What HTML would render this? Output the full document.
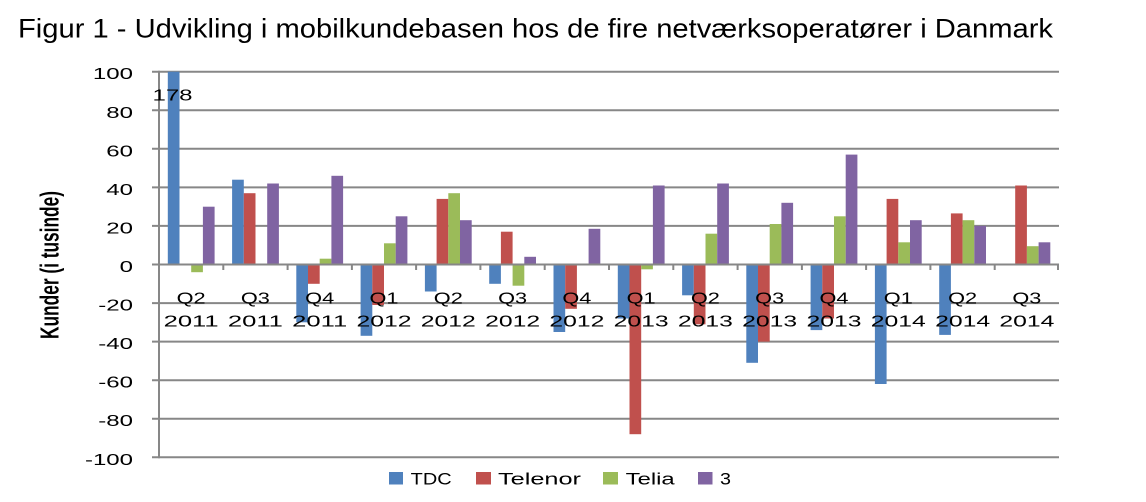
<!DOCTYPE html>
<html>
<head>
<meta charset="utf-8">
<style>
html,body{margin:0;padding:0;background:#fff;}
svg{display:block;}
text{font-family:"Liberation Sans",Arial,sans-serif;fill:#000;}
</style>
</head>
<body>
<svg width="1146" height="502" viewBox="0 0 1146 502" xmlns="http://www.w3.org/2000/svg">
<rect width="1146" height="502" fill="#fff"/>
<!-- Title -->
<text x="18" y="37.7" font-size="27" textLength="1035" lengthAdjust="spacingAndGlyphs">Figur 1 - Udvikling i mobilkundebasen hos de fire netværksoperatører i Danmark</text>

<!-- Gridlines -->
<g stroke="#878787" stroke-width="2">
<line x1="152" y1="71.7" x2="1059" y2="71.7"/>
<line x1="152" y1="110.3" x2="1059" y2="110.3"/>
<line x1="152" y1="148.8" x2="1059" y2="148.8"/>
<line x1="152" y1="187.4" x2="1059" y2="187.4"/>
<line x1="152" y1="225.9" x2="1059" y2="225.9"/>
<line x1="152" y1="303.1" x2="1059" y2="303.1"/>
<line x1="152" y1="341.6" x2="1059" y2="341.6"/>
<line x1="152" y1="380.2" x2="1059" y2="380.2"/>
<line x1="152" y1="418.7" x2="1059" y2="418.7"/>
<line x1="152" y1="457.3" x2="1059" y2="457.3"/>
</g>

<!-- Bars -->
<g fill="#4F81BD">
<rect x="167.8" y="71.7" width="11.7" height="192.8"/>
<rect x="232.1" y="179.7" width="11.7" height="84.8"/>
<rect x="296.3" y="264.5" width="11.7" height="57.8"/>
<rect x="360.6" y="264.5" width="11.7" height="71.3"/>
<rect x="424.9" y="264.5" width="11.7" height="27.0"/>
<rect x="489.2" y="264.5" width="11.7" height="19.3"/>
<rect x="553.5" y="264.5" width="11.7" height="67.5"/>
<rect x="617.8" y="264.5" width="11.7" height="54.0"/>
<rect x="682.1" y="264.5" width="11.7" height="30.8"/>
<rect x="746.3" y="264.5" width="11.7" height="98.3"/>
<rect x="810.6" y="264.5" width="11.7" height="65.6"/>
<rect x="874.9" y="264.5" width="11.7" height="119.5"/>
<rect x="939.2" y="264.5" width="11.7" height="70.4"/>
</g>
<g fill="#C0504D">
<rect x="243.8" y="193.2" width="11.7" height="71.3"/>
<rect x="308.0" y="264.5" width="11.7" height="19.3"/>
<rect x="372.3" y="264.5" width="11.7" height="40.5"/>
<rect x="436.6" y="198.9" width="11.7" height="65.6"/>
<rect x="500.9" y="231.7" width="11.7" height="32.8"/>
<rect x="565.2" y="264.5" width="11.7" height="44.3"/>
<rect x="629.5" y="264.5" width="11.7" height="169.7"/>
<rect x="693.8" y="264.5" width="11.7" height="59.8"/>
<rect x="758.0" y="264.5" width="11.7" height="77.1"/>
<rect x="822.3" y="264.5" width="11.7" height="54.0"/>
<rect x="886.6" y="198.9" width="11.7" height="65.6"/>
<rect x="950.9" y="213.4" width="11.7" height="51.1"/>
<rect x="1015.2" y="185.5" width="11.7" height="79.0"/>
</g>
<g fill="#9BBB59">
<rect x="191.2" y="264.5" width="11.7" height="7.7"/>
<rect x="319.7" y="258.7" width="11.7" height="5.8"/>
<rect x="384.0" y="243.3" width="11.7" height="21.2"/>
<rect x="448.3" y="193.2" width="11.7" height="71.3"/>
<rect x="512.6" y="264.5" width="11.7" height="21.2"/>
<rect x="641.2" y="264.5" width="11.7" height="4.8"/>
<rect x="705.5" y="233.7" width="11.7" height="30.8"/>
<rect x="769.7" y="224.0" width="11.7" height="40.5"/>
<rect x="834.0" y="216.3" width="11.7" height="48.2"/>
<rect x="898.3" y="242.3" width="11.7" height="22.2"/>
<rect x="962.6" y="220.2" width="11.7" height="44.3"/>
<rect x="1026.9" y="246.2" width="11.7" height="18.3"/>
</g>
<g fill="#8064A2">
<rect x="202.9" y="206.7" width="11.7" height="57.8"/>
<rect x="267.2" y="183.5" width="11.7" height="81.0"/>
<rect x="331.4" y="175.8" width="11.7" height="88.7"/>
<rect x="395.7" y="216.3" width="11.7" height="48.2"/>
<rect x="460.0" y="220.2" width="11.7" height="44.3"/>
<rect x="524.3" y="256.8" width="11.7" height="7.7"/>
<rect x="588.6" y="228.8" width="11.7" height="35.7"/>
<rect x="652.9" y="185.5" width="11.7" height="79.0"/>
<rect x="717.2" y="183.5" width="11.7" height="81.0"/>
<rect x="781.4" y="202.8" width="11.7" height="61.7"/>
<rect x="845.7" y="154.6" width="11.7" height="109.9"/>
<rect x="910.0" y="220.2" width="11.7" height="44.3"/>
<rect x="974.3" y="225.9" width="11.7" height="38.6"/>
<rect x="1038.6" y="242.3" width="11.7" height="22.2"/>
</g>

<!-- Axes -->
<g stroke="#878787" stroke-width="2">
<line x1="152" y1="264.5" x2="1059" y2="264.5"/>
<line x1="159" y1="70.7" x2="159" y2="458.3"/>
<line x1="223.3" y1="264.5" x2="223.3" y2="270"/>
<line x1="287.6" y1="264.5" x2="287.6" y2="270"/>
<line x1="351.9" y1="264.5" x2="351.9" y2="270"/>
<line x1="416.1" y1="264.5" x2="416.1" y2="270"/>
<line x1="480.4" y1="264.5" x2="480.4" y2="270"/>
<line x1="544.7" y1="264.5" x2="544.7" y2="270"/>
<line x1="609.0" y1="264.5" x2="609.0" y2="270"/>
<line x1="673.3" y1="264.5" x2="673.3" y2="270"/>
<line x1="737.6" y1="264.5" x2="737.6" y2="270"/>
<line x1="801.9" y1="264.5" x2="801.9" y2="270"/>
<line x1="866.1" y1="264.5" x2="866.1" y2="270"/>
<line x1="930.4" y1="264.5" x2="930.4" y2="270"/>
<line x1="994.7" y1="264.5" x2="994.7" y2="270"/>
<line x1="1058" y1="264.5" x2="1058" y2="270"/>
</g>

<!-- Y tick labels -->
<g font-size="15.5" text-anchor="end">
<text transform="translate(133,79.2) scale(1.55,1)">100</text>
<text transform="translate(133,117.8) scale(1.55,1)">80</text>
<text transform="translate(133,156.3) scale(1.55,1)">60</text>
<text transform="translate(133,194.9) scale(1.55,1)">40</text>
<text transform="translate(133,233.4) scale(1.55,1)">20</text>
<text transform="translate(133,272.0) scale(1.55,1)">0</text>
<text transform="translate(133,310.6) scale(1.55,1)">-20</text>
<text transform="translate(133,349.1) scale(1.55,1)">-40</text>
<text transform="translate(133,387.7) scale(1.55,1)">-60</text>
<text transform="translate(133,426.2) scale(1.55,1)">-80</text>
<text transform="translate(133,464.8) scale(1.55,1)">-100</text>
</g>

<!-- 178 label -->
<text transform="translate(172.5,100.7) scale(1.55,1)" font-size="15.5" text-anchor="middle">178</text>

<!-- Category labels -->
<g font-size="16" text-anchor="middle" lengthAdjust="spacingAndGlyphs">
<text x="191.1" y="303.3" textLength="29" lengthAdjust="spacingAndGlyphs">Q2</text>
<text x="191.1" y="326.7" textLength="55" lengthAdjust="spacingAndGlyphs">2011</text>
<text x="255.4" y="303.3" textLength="29" lengthAdjust="spacingAndGlyphs">Q3</text>
<text x="255.4" y="326.7" textLength="55" lengthAdjust="spacingAndGlyphs">2011</text>
<text x="319.7" y="303.3" textLength="29" lengthAdjust="spacingAndGlyphs">Q4</text>
<text x="319.7" y="326.7" textLength="55" lengthAdjust="spacingAndGlyphs">2011</text>
<text x="384.0" y="303.3" textLength="29" lengthAdjust="spacingAndGlyphs">Q1</text>
<text x="384.0" y="326.7" textLength="55" lengthAdjust="spacingAndGlyphs">2012</text>
<text x="448.3" y="303.3" textLength="29" lengthAdjust="spacingAndGlyphs">Q2</text>
<text x="448.3" y="326.7" textLength="55" lengthAdjust="spacingAndGlyphs">2012</text>
<text x="512.6" y="303.3" textLength="29" lengthAdjust="spacingAndGlyphs">Q3</text>
<text x="512.6" y="326.7" textLength="55" lengthAdjust="spacingAndGlyphs">2012</text>
<text x="576.9" y="303.3" textLength="29" lengthAdjust="spacingAndGlyphs">Q4</text>
<text x="576.9" y="326.7" textLength="55" lengthAdjust="spacingAndGlyphs">2012</text>
<text x="641.1" y="303.3" textLength="29" lengthAdjust="spacingAndGlyphs">Q1</text>
<text x="641.1" y="326.7" textLength="55" lengthAdjust="spacingAndGlyphs">2013</text>
<text x="705.4" y="303.3" textLength="29" lengthAdjust="spacingAndGlyphs">Q2</text>
<text x="705.4" y="326.7" textLength="55" lengthAdjust="spacingAndGlyphs">2013</text>
<text x="769.7" y="303.3" textLength="29" lengthAdjust="spacingAndGlyphs">Q3</text>
<text x="769.7" y="326.7" textLength="55" lengthAdjust="spacingAndGlyphs">2013</text>
<text x="834.0" y="303.3" textLength="29" lengthAdjust="spacingAndGlyphs">Q4</text>
<text x="834.0" y="326.7" textLength="55" lengthAdjust="spacingAndGlyphs">2013</text>
<text x="898.3" y="303.3" textLength="29" lengthAdjust="spacingAndGlyphs">Q1</text>
<text x="898.3" y="326.7" textLength="55" lengthAdjust="spacingAndGlyphs">2014</text>
<text x="962.6" y="303.3" textLength="29" lengthAdjust="spacingAndGlyphs">Q2</text>
<text x="962.6" y="326.7" textLength="55" lengthAdjust="spacingAndGlyphs">2014</text>
<text x="1026.9" y="303.3" textLength="29" lengthAdjust="spacingAndGlyphs">Q3</text>
<text x="1026.9" y="326.7" textLength="55" lengthAdjust="spacingAndGlyphs">2014</text>
</g>

<!-- Y axis title -->
<text transform="translate(58.3,265) scale(1.5,1) rotate(-90)" font-size="17" font-weight="bold" text-anchor="middle" textLength="148" lengthAdjust="spacingAndGlyphs">Kunder (i tusinde)</text>

<!-- Legend -->
<rect x="389" y="472" width="14" height="12.5" fill="#4F81BD"/>
<text x="410.7" y="484.3" font-size="17" textLength="41" lengthAdjust="spacingAndGlyphs">TDC</text>
<rect x="476" y="472" width="15" height="12.5" fill="#C0504D"/>
<text x="498" y="484.3" font-size="17" textLength="83" lengthAdjust="spacingAndGlyphs">Telenor</text>
<rect x="603" y="472" width="15" height="12.5" fill="#9BBB59"/>
<text x="625.7" y="484.3" font-size="17" textLength="49" lengthAdjust="spacingAndGlyphs">Telia</text>
<rect x="698" y="472" width="14.5" height="12.5" fill="#8064A2"/>
<text x="720" y="484.3" font-size="17" textLength="11" lengthAdjust="spacingAndGlyphs">3</text>
</svg>
</body>
</html>
